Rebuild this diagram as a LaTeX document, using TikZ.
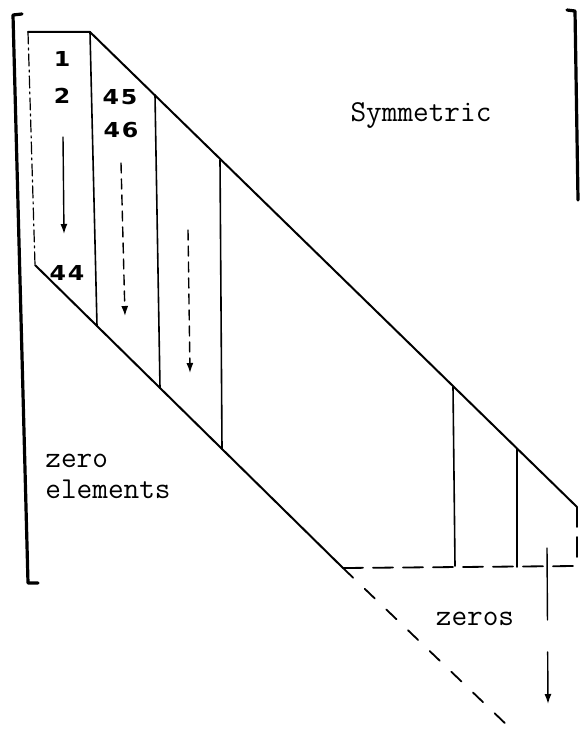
\documentclass[tikz,border=0pt]{standalone}
\usepackage{fontspec}
\usetikzlibrary{arrows.meta}
\newfontfamily\numfont[FakeStretch=1.15]{DejaVu Sans Bold}
\begin{document}
\begin{tikzpicture}[x=0.5pt,y=-0.5pt, line cap=round, line join=round,
  bandline/.style={line width=1pt},
  sepline/.style={line width=0.8pt},
  brk/.style={line width=1.6pt},
  dashdotline/.style={line width=0.6pt, dash pattern=on 6pt off 2pt on 1pt off 2pt},
  longdash/.style={line width=0.9pt, dash pattern=on 10pt off 5pt},
  diagdash/.style={line width=0.9pt, dash pattern=on 7pt off 8pt},
  arr/.style={-{Latex[length=5pt,width=3.5pt]}, line width=0.7pt},
  arrdash/.style={arr, dash pattern=on 5pt off 3pt},
  lbl/.style={font=\ttfamily\fontsize{15.2}{15.5}\selectfont, inner sep=0pt, anchor=base},
  num/.style={font=\numfont\fontsize{10.3}{12}\selectfont, inner sep=0pt, anchor=base}]
\useasboundingbox (0,0) rectangle (579,737);

% brackets
\draw[brk] (22,14) -- (13,15) -- (28,583) -- (38,583);
\draw[brk] (567,10) -- (575,11) -- (578,200);

% band corners
\coordinate (TL) at (28,32);
\coordinate (TR) at (90,32);
\coordinate (UE) at (577,507);
\coordinate (LC) at (35,265);
\coordinate (LE) at (343,568);
\coordinate (RB) at (577,566);
\coordinate (DE) at (510,728);

% outline of band
\draw[bandline] (TL) -- (TR) -- (UE);
\draw[dashdotline] (TL) -- (LC);
\draw[bandline] (LC) -- (LE);
\draw[longdash] (LE) -- (RB);
\draw[longdash] (UE) -- (RB);
\draw[diagdash] (LE) -- (DE);

% column separators
\draw[sepline] (TR) -- (97,326);
\draw[sepline] (155,95) -- (160,388);
\draw[sepline] (220,160) -- (222,449);
\draw[sepline] (453,387) -- (455,566);
\draw[sepline] (517,449) -- (517,567);

% arrows
\coordinate (a1s) at (63,137); \coordinate (a1e) at (64,234);
\coordinate (a2s) at (121,163); \coordinate (a2e) at (125,316);
\coordinate (a3s) at (188,230); \coordinate (a3e) at (190,373);
\coordinate (a4s) at (547,548); \coordinate (a4e) at (548,704);
\draw[arr] (a1s) -- (a1e);
\draw[arrdash] (a2s) -- (a2e);
\draw[arrdash] (a3s) -- (a3e);
\draw[arr, dash pattern=on 36pt off 16pt] (a4s) -- (a4e);

% numbers
\node[num] (n1) at (62,67) {1};
\node[num] (n2) at (62,104) {2};
\node[num] (n45) at (120,105) {4\kern0.8pt5};
\node[num] (n46) at (121,138) {4\kern0.8pt6};
\node[num] (n44) at (67,280) {4\kern0.8pt4};

% labels
\node[lbl] (sym) at (421,122) {Symmetric};
\node[lbl, anchor=base west] (zero) at (45,467) {zero};
\node[lbl, anchor=base west] (elem) at (45,498) {elements};
\node[lbl] (zeros) at (475,625) {zeros};
\end{tikzpicture}
\end{document}
